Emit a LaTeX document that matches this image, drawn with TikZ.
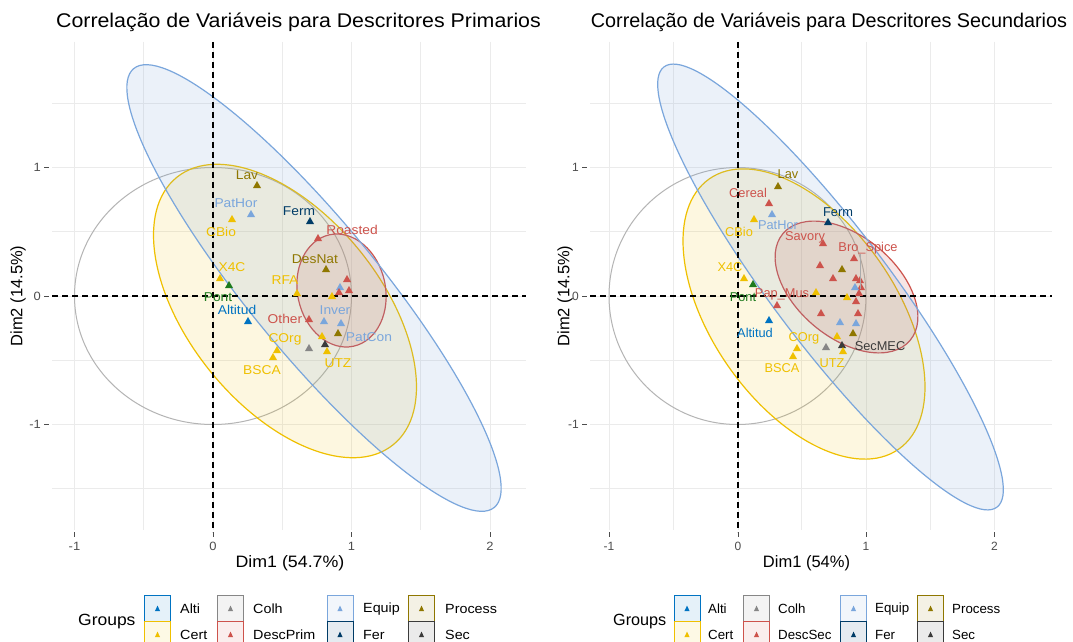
\documentclass[tikz,border=0pt]{standalone}
\usepackage{fontspec}
\setmainfont{Liberation Sans}
\newfontfamily\lw[FakeStretch=1.078]{Liberation Sans}
\definecolor{alti}{HTML}{0073C2}
\definecolor{cert}{HTML}{EFC000}
\definecolor{colh}{HTML}{868686}
\definecolor{desc}{HTML}{CD534C}
\definecolor{equip}{HTML}{7AA6DC}
\definecolor{fer}{HTML}{003C67}
\definecolor{proc}{HTML}{8F7700}
\definecolor{sec}{HTML}{3B3B3B}
\definecolor{pont}{HTML}{1E7B1E}
\definecolor{gridc}{HTML}{EBEBEB}
\definecolor{tickc}{HTML}{4D4D4D}
\definecolor{circc}{HTML}{B4B4B4}
\newcommand{\mk}[3]{\fill[#1] ({#2-4},{#3+3}) -- ({#2+4},{#3+3}) -- (#2,{#3-4}) -- cycle;}
\newcommand{\myell}[6]{\filldraw[ellp, draw=#1, fill=#1, fill opacity=#6, shift={(#2,#3)}, rotate=#4] (0,0) ellipse [#5];}
\newcommand{\keybox}[3]{%
  \filldraw[draw=#1, line width=1pt, fill=#1!10] ({#2-13},{#3-13}) rectangle ({#2+13},{#3+13});
  \fill[#1] ({#2-2.6},{#3+2.5}) -- ({#2+2.6},{#3+2.5}) -- (#2,{#3-2.8}) -- cycle;}
\begin{document}
\begin{tikzpicture}[x=1pt,y=-1pt,
  gridl/.style={draw=gridc, line width=0.7pt},
  zero/.style={draw=black, dash pattern=on 6pt off 4pt, line width=1.4pt},
  ellp/.style={line width=1.2pt},
  lbl/.style={inner sep=0pt, font=\fontsize{12.8}{14}\selectfont},
  llbl/.style={inner sep=0pt, font=\lw\fontsize{12.8}{14}\selectfont},
  tick/.style={inner sep=0pt, text=tickc, font=\fontsize{12}{14}\selectfont},
  ltick/.style={inner sep=0pt, text=tickc, font=\lw\fontsize{12}{14}\selectfont},
  axt/.style={inner sep=0pt, font=\fontsize{16.5}{18}\selectfont},
  laxt/.style={inner sep=0pt, font=\lw\fontsize{16.5}{18}\selectfont},
  ttl/.style={inner sep=0pt, font=\fontsize{19.8}{22}\selectfont},
  lttl/.style={inner sep=0pt, font=\lw\fontsize{19.8}{22}\selectfont},
  leg/.style={inner sep=0pt, anchor=west, font=\fontsize{13.3}{15}\selectfont},
  lleg/.style={inner sep=0pt, anchor=west, font=\lw\fontsize{13.3}{15}\selectfont},
]
\useasboundingbox (0,0) rectangle (1073,642);
\fill[white] (0,0) rectangle (1073,642);

%================ LEFT PANEL =================
\foreach \gx in {74.5,143.75,213,282.25,351.5,420.75,490} \draw[gridl] (\gx,42) -- (\gx,530);
\foreach \gy in {103.25,167.5,231.75,296,360.25,424.5,488.75} \draw[gridl] (52,\gy) -- (526,\gy);
\draw[circc, line width=1pt] (213,296) ellipse [x radius=138.5pt, y radius=128.5pt];
\myell{cert}{285}{311}{-51}{x radius=172pt, y radius=96pt}{0.12}
\myell{desc}{341.5}{290.5}{12}{x radius=44pt, y radius=57pt}{0.15}
\myell{equip}{314}{288}{-50.6}{x radius=284pt, y radius=65pt}{0.15}
\draw[zero] (213,42) -- (213,532);
\draw[zero] (52,296) -- (526,296);
% ticks
\foreach \gx/\t in {74.5/-1,213/0,351.5/1,490/2}{
  \draw[tickc, line width=1pt] (\gx,532) -- (\gx,537);
  \node[ltick] at (\gx,546) {\t};}
\foreach \gy/\t in {167.5/1,296/0,424.5/-1}{
  \draw[tickc, line width=1pt] (44,\gy) -- (49,\gy);
  \node[ltick, anchor=east] at (41,\gy) {\t};}
\node[lttl] (ltitle) at (298.5,22) {Correlação de Variáveis para Descritores Primarios};
\node[laxt] (lxlab) at (290,563) {Dim1 (54.7\%)};
\node[axt, rotate=90] (lylab) at (18,296) {Dim2 (14.5\%)};
% points
\mk{proc}{257}{185} \mk{equip}{251}{214} \mk{cert}{232}{219} \mk{fer}{310}{221}
\mk{desc}{318}{238} \mk{proc}{326}{269} \mk{cert}{220}{278} \mk{pont}{229}{285}
\mk{cert}{297}{293} \mk{desc}{347}{279} \mk{equip}{340}{287} \mk{desc}{339}{292}
\mk{desc}{349}{290} \mk{cert}{332}{296} \mk{alti}{248}{321} \mk{desc}{309}{319}
\mk{equip}{324}{321} \mk{equip}{341}{323} \mk{proc}{338}{333} \mk{cert}{322}{336}
\mk{cert}{277}{350} \mk{colh}{309}{348} \mk{sec}{325}{344} \mk{cert}{327}{351}
\mk{cert}{273}{357}
% labels
\node[llbl, text=proc] (lLav) at (247,175) {Lav};
\node[llbl, text=equip] (lPatHor) at (236,203) {PatHor};
\node[llbl, text=cert] (lCBio) at (221,232) {CBio};
\node[llbl, text=fer] (lFerm) at (299,211) {Ferm};
\node[llbl, text=desc] (lRoasted) at (352,230) {Roasted};
\node[llbl, text=proc] (lDesNat) at (315,259) {DesNat};
\node[llbl, text=cert] (lX4C) at (232,267) {X4C};
\node[llbl, text=pont] (lPont) at (218,297) {Pont};
\node[llbl, text=cert] (lRFA) at (285,280) {RFA};
\node[llbl, text=alti] (lAltitud) at (237,310) {Altitud};
\node[llbl, text=desc] (lOther) at (285,319) {Other};
\node[llbl, text=equip] (lInver) at (335,310) {Inver};
\node[llbl, text=equip] (lPatCon) at (369,337) {PatCon};
\node[llbl, text=cert] (lCOrg) at (285,339) {COrg};
\node[llbl, text=cert] (lUTZ) at (338,363) {UTZ};
\node[llbl, text=cert] (lBSCA) at (262,370) {BSCA};
% legend
\node[inner sep=0pt, anchor=west, font=\lw\fontsize{16.2}{18}\selectfont] (lgroups) at (78,622) {Groups};
\keybox{alti}{157.5}{608.5}
\keybox{cert}{157.5}{634.5}
\keybox{colh}{230.5}{608.5}
\keybox{desc}{230.5}{634.5}
\keybox{equip}{340}{608.5}
\keybox{fer}{340}{634.5}
\keybox{proc}{421.5}{608.5}
\keybox{sec}{421.5}{634.5}
\node[lleg] (lk1) at (180,609) {Alti};
\node[lleg] (lk2) at (180,635) {Cert};
\node[lleg] (lk3) at (253,609) {Colh};
\node[lleg] (lk4) at (253,635) {DescPrim};
\node[lleg] (lk5) at (363,609) {Equip};
\node[lleg] (lk6) at (363,635) {Fer};
\node[lleg] (lk7) at (445,609) {Process};
\node[lleg] (lk8) at (445,635) {Sec};

%================ RIGHT PANEL =================
\foreach \gx in {609,673.25,738,801.75,866,930.25,994.5} \draw[gridl] (\gx,42) -- (\gx,530);
\foreach \gy in {103.25,167.5,231.75,296,360.25,424.5,488.75} \draw[gridl] (590,\gy) -- (1052,\gy);
\draw[circc, line width=1pt] (737.5,296) circle [radius=128.5pt];
\myell{cert}{804}{314}{-55}{x radius=165pt, y radius=92pt}{0.12}
\myell{desc}{846.5}{287}{-40}{x radius=83pt, y radius=50.5pt}{0.15}
\myell{equip}{830.5}{287}{-52.9}{x radius=276pt, y radius=58pt}{0.15}
\draw[zero] (738,42) -- (738,532);
\draw[zero] (590,296) -- (1052,296);
\foreach \gx/\t in {609/-1,738/0,866/1,994.5/2}{
  \draw[tickc, line width=1pt] (\gx,532) -- (\gx,537);
  \node[tick] at (\gx,546) {\t};}
\foreach \gy/\t in {167.5/1,296/0,424.5/-1}{
  \draw[tickc, line width=1pt] (582,\gy) -- (587,\gy);
  \node[tick, anchor=east] at (579,\gy) {\t};}
\node[ttl] (rtitle) at (829,22) {Correlação de Variáveis para Descritores Secundarios};
\node[axt] (rxlab) at (806.5,563) {Dim1 (54\%)};
\node[axt, rotate=90] (rylab) at (565,296) {Dim2 (14.5\%)};
% points
\mk{proc}{778}{186} \mk{desc}{769}{203} \mk{equip}{772}{214} \mk{cert}{754}{219}
\mk{fer}{828}{222} \mk{desc}{823}{243} \mk{desc}{854}{258} \mk{cert}{744}{278}
\mk{pont}{753}{284} \mk{desc}{777}{305} \mk{desc}{820}{265} \mk{proc}{842}{269}
\mk{desc}{833}{278} \mk{cert}{816}{292} \mk{cert}{847}{297} \mk{desc}{856}{278}
\mk{desc}{860}{280} \mk{desc}{861}{287} \mk{desc}{859}{293} \mk{equip}{855}{287}
\mk{desc}{856}{301} \mk{desc}{821}{313} \mk{equip}{840}{322} \mk{desc}{858}{313}
\mk{equip}{856}{323} \mk{proc}{853}{333} \mk{cert}{837}{336} \mk{alti}{769}{320}
\mk{cert}{797}{348} \mk{cert}{793}{356} \mk{colh}{826}{347} \mk{sec}{842}{345}
\mk{cert}{843}{351}
\node[lbl, text=proc] (rLav) at (788,174) {Lav};
\node[lbl, text=desc] (rCereal) at (748,193) {Cereal};
\node[lbl, text=equip] (rPatHor) at (778,225) {PatHor};
\node[lbl, text=cert] (rCBio) at (739,232) {CBio};
\node[lbl, text=fer] (rFerm) at (838,212) {Ferm};
\node[lbl, text=desc] (rSavory) at (805,237.5) {Savory};
\node[lbl, text=desc] (rBro) at (868,248) {Bro\_Spice};
\coordinate (rBroEnd) at (860,289);
\draw[colh!70, line width=0.5pt] (rBro.south -| rBroEnd) -- (rBroEnd);
\node[lbl, text=cert] (rX4C) at (730,267) {X4C};
\node[lbl, text=pont] (rPont) at (743,297) {Pont};
\node[lbl, text=desc] (rPap) at (782,294) {Pap\_Mus};
\node[lbl, text=alti] (rAltitud) at (755,333) {Altitud};
\node[lbl, text=cert] (rCOrg) at (804,338) {COrg};
\node[lbl, text=cert] (rBSCA) at (782,368) {BSCA};
\node[lbl, text=cert] (rUTZ) at (832,363) {UTZ};
\node[lbl, text=sec] (rSecMEC) at (880,346) {SecMEC};
% legend
\node[inner sep=0pt, anchor=west, font=\fontsize{16.2}{18}\selectfont] (rgroups) at (613,622) {Groups};
\keybox{alti}{687}{608.5}
\keybox{cert}{687}{634.5}
\keybox{colh}{756.5}{608.5}
\keybox{desc}{756.5}{634.5}
\keybox{equip}{853.5}{608.5}
\keybox{fer}{853.5}{634.5}
\keybox{proc}{930.5}{608.5}
\keybox{sec}{930.5}{634.5}
\node[leg] (rk1) at (708,609) {Alti};
\node[leg] (rk2) at (708,635) {Cert};
\node[leg] (rk3) at (778,609) {Colh};
\node[leg] (rk4) at (778,635) {DescSec};
\node[leg] (rk5) at (875,609) {Equip};
\node[leg] (rk6) at (875,635) {Fer};
\node[leg] (rk7) at (952,609) {Process};
\node[leg] (rk8) at (952,635) {Sec};
\end{tikzpicture}
\end{document}
